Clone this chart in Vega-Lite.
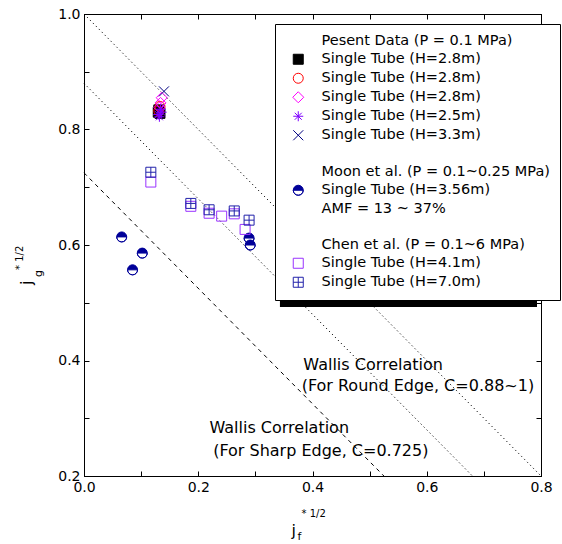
{
  "$schema": "https://vega.github.io/schema/vega-lite/v6.json",
  "width": 457,
  "height": 462,
  "autosize": {"type": "none"},
  "padding": {"left": 84, "top": 14, "right": 21, "bottom": 68},
  "background": "white",
  "datasets": {
    "pts": [
      {"x": 0.131, "y": 0.834, "s": "a1"},
      {"x": 0.133, "y": 0.828, "s": "a1"},
      {"x": 0.130, "y": 0.830, "s": "a1"},
      {"x": 0.133, "y": 0.840, "s": "a2"},
      {"x": 0.131, "y": 0.832, "s": "a2"},
      {"x": 0.136, "y": 0.855, "s": "a3"},
      {"x": 0.134, "y": 0.846, "s": "a3"},
      {"x": 0.132, "y": 0.838, "s": "a3"},
      {"x": 0.140, "y": 0.866, "s": "a5"},
      {"x": 0.134, "y": 0.835, "s": "a4"},
      {"x": 0.130, "y": 0.826, "s": "a4"},
      {"x": 0.136, "y": 0.830, "s": "a4"},
      {"x": 0.132, "y": 0.822, "s": "a4"},
      {"x": 0.066, "y": 0.614, "s": "b1"},
      {"x": 0.102, "y": 0.586, "s": "b1"},
      {"x": 0.085, "y": 0.557, "s": "b1"},
      {"x": 0.289, "y": 0.612, "s": "b1"},
      {"x": 0.291, "y": 0.600, "s": "b1"},
      {"x": 0.117, "y": 0.709, "s": "c1"},
      {"x": 0.187, "y": 0.667, "s": "c1"},
      {"x": 0.219, "y": 0.655, "s": "c1"},
      {"x": 0.241, "y": 0.650, "s": "c1"},
      {"x": 0.263, "y": 0.654, "s": "c1"},
      {"x": 0.282, "y": 0.627, "s": "c1"},
      {"x": 0.117, "y": 0.726, "s": "c2"},
      {"x": 0.187, "y": 0.672, "s": "c2"},
      {"x": 0.219, "y": 0.661, "s": "c2"},
      {"x": 0.263, "y": 0.659, "s": "c2"},
      {"x": 0.289, "y": 0.643, "s": "c2"}
    ],
    "lines": [
      {"x": 0, "y": 1.0, "c": "C1"},
      {"x": 0.8, "y": 0.2, "c": "C1"},
      {"x": 0, "y": 0.88, "c": "C088"},
      {"x": 0.68, "y": 0.2, "c": "C088"},
      {"x": 0, "y": 0.725, "c": "C0725"},
      {"x": 0.525, "y": 0.2, "c": "C0725"}
    ],
    "notesL": [
      {"x": 0.384, "y": 0.3836, "t": "Wallis Correlation"},
      {"x": 0.381, "y": 0.348, "t": "(For Round Edge, C=0.88~1)"}
    ],
    "notesR": [
      {"x": 0.464, "y": 0.274, "t": "Wallis Correlation"},
      {"x": 0.603, "y": 0.2346, "t": "(For Sharp Edge, C=0.725)"}
    ],
    "one": [{"k": 1}]
  },
  "layer": [
    {
      "data": {"name": "one"},
      "mark": {"type": "rect", "color": "black"},
      "encoding": {
        "x": {"datum": 0.343, "type": "quantitative", "scale": {"domain": [0, 0.8], "nice": false, "zero": false},
              "axis": {"values": [0, 0.1, 0.2, 0.3, 0.4, 0.5, 0.6, 0.7, 0.8], "labelExpr": "round(datum.value*10) % 2 == 0 ? format(datum.value, '.1f') : ''", "title": null, "tickSize": -5, "labelPadding": 9, "labelFont": "DejaVu Sans", "labelFontSize": 14, "labelColor": "black", "domainColor": "black", "tickColor": "black", "labelFlush": false, "labelOverlap": false, "grid": false}},
        "x2": {"datum": 0.793},
        "y": {"datum": 0.9706, "type": "quantitative", "scale": {"domain": [0.2, 1.0], "nice": false, "zero": false},
              "axis": {"values": [0.2, 0.3, 0.4, 0.5, 0.6, 0.7, 0.8, 0.9, 1.0], "labelExpr": "round(datum.value*10) % 2 == 0 ? format(datum.value, '.1f') : ''", "title": null, "tickSize": -5, "labelPadding": 9, "labelFont": "DejaVu Sans", "labelFontSize": 14, "labelColor": "black", "domainColor": "black", "tickColor": "black", "labelFlush": false, "labelOverlap": false, "grid": false}},
        "y2": {"datum": 0.4926}
      }
    },
    {
      "data": {"name": "lines"},
      "mark": {"type": "line", "color": "black", "strokeWidth": 1},
      "encoding": {
        "x": {"field": "x", "type": "quantitative",
              "axis": {"orient": "top", "values": [0, 0.1, 0.2, 0.3, 0.4, 0.5, 0.6, 0.7, 0.8], "labels": false, "title": null, "tickSize": -5, "domainColor": "black", "tickColor": "black", "grid": false}},
        "y": {"field": "y", "type": "quantitative",
              "axis": {"orient": "right", "values": [0.2, 0.3, 0.4, 0.5, 0.6, 0.7, 0.8, 0.9, 1.0], "labels": false, "title": null, "tickSize": -5, "domainColor": "black", "tickColor": "black", "grid": false}},
        "strokeDash": {"field": "c", "type": "nominal", "scale": {"domain": ["C1", "C088", "C0725"], "range": [[1.2, 3], [1.2, 3], [4, 4]]}, "legend": null}
      }
    },
    {
      "data": {"name": "pts"},
      "mark": {"type": "point", "size": 100, "strokeWidth": 1, "opacity": 1},
      "encoding": {
        "x": {"field": "x", "type": "quantitative", "axis": null},
        "y": {"field": "y", "type": "quantitative", "axis": null},
        "shape": {"field": "s", "type": "nominal",
          "scale": {"domain": ["a0h", "a1", "a2", "a3", "a4", "a5", "a6b", "b0h", "b1", "b2amf", "b3b", "c0h", "c1", "c2"],
                    "range": ["M0,0", "M-1,-1H1V1H-1Z", "M1,0A1,1,0,1,1,-1,0A1,1,0,1,1,1,0Z", "M0,-1.1L1.1,0L0,1.1L-1.1,0Z", "M-1,0H1M0,-1V1M-0.7,-0.7L0.7,0.7M-0.7,0.7L0.7,-0.7", "M-1,-1L1,1M-1,1L1,-1", "M0,0", "M0,0", "M-1,0A1,1,0,0,1,1,0Z M-1,0A1,1,0,0,0,1,0A1,1,0,0,1,-1,0", "M0,0", "M0,0", "M0,0", "M-1,-1H1V1H-1Z", "M-1,-1H1V1H-1Z M0,-1V1 M-1,0H1"]},
          "legend": {"title": null,
            "encode": {"labels": {"update": {
              "fontWeight": {"signal": "indexof(datum.value, 'h') > 0 ? 'bold' : 'normal'"},
              "fontSize": {"signal": "indexof(datum.value, 'h') > 0 ? 13.5 : 14.5"},
              "dx": {"signal": "indexof(datum.value, 'h') > 0 ? -31 : (datum.value == 'b2amf' ? 17 : 0)"}
            }}},
            "labelExpr": "{'a0h': 'Pesent Data (P = 0.1 MPa)', 'a1': 'Single Tube (H=2.8m)', 'a2': 'Single Tube (H=2.8m)', 'a3': 'Single Tube (H=2.8m)', 'a4': 'Single Tube (H=2.5m)', 'a5': 'Single Tube (H=3.3m)', 'a6b': ' ', 'b0h': 'Moon et al. (P = 0.1~0.25 MPa)', 'b1': 'Single Tube (H=3.56m)', 'b2amf': 'AMF = 13 ~ 37%', 'b3b': ' ', 'c0h': 'Chen et al. (P = 0.1~6 MPa)', 'c1': 'Single Tube (H=4.1m)', 'c2': 'Single Tube (H=7.0m)'}[datum.value]"}},
        "fill": {"field": "s", "type": "nominal",
          "scale": {"domain": ["a0h", "a1", "a2", "a3", "a4", "a5", "a6b", "b0h", "b1", "b2amf", "b3b", "c0h", "c1", "c2"],
                    "range": ["transparent", "black", "transparent", "transparent", "transparent", "transparent", "transparent", "transparent", "#000099", "transparent", "transparent", "transparent", "transparent", "transparent"]},
          "legend": {"title": null,
            "encode": {"labels": {"update": {
              "fontWeight": {"signal": "indexof(datum.value, 'h') > 0 ? 'bold' : 'normal'"},
              "fontSize": {"signal": "indexof(datum.value, 'h') > 0 ? 13.5 : 14.5"},
              "dx": {"signal": "indexof(datum.value, 'h') > 0 ? -31 : (datum.value == 'b2amf' ? 17 : 0)"}
            }}}}},
        "stroke": {"field": "s", "type": "nominal",
          "scale": {"domain": ["a0h", "a1", "a2", "a3", "a4", "a5", "a6b", "b0h", "b1", "b2amf", "b3b", "c0h", "c1", "c2"],
                    "range": ["transparent", "black", "#FF0000", "#FF00FF", "#7F00FF", "#000080", "transparent", "transparent", "#000099", "transparent", "transparent", "transparent", "#9933FF", "#2222AA"]},
          "legend": {"title": null,
            "encode": {"labels": {"update": {
              "fontWeight": {"signal": "indexof(datum.value, 'h') > 0 ? 'bold' : 'normal'"},
              "fontSize": {"signal": "indexof(datum.value, 'h') > 0 ? 13.5 : 14.5"},
              "dx": {"signal": "indexof(datum.value, 'h') > 0 ? -31 : (datum.value == 'b2amf' ? 17 : 0)"}
            }}}}}
      }
    },
    {
      "data": {"name": "notesL"},
      "mark": {"type": "text", "align": "left", "baseline": "alphabetic", "font": "DejaVu Sans", "fontSize": 16, "color": "black"},
      "encoding": {
        "x": {"field": "x", "type": "quantitative", "axis": null},
        "y": {"field": "y", "type": "quantitative", "axis": null},
        "text": {"field": "t"}
      }
    },
    {
      "data": {"name": "notesR"},
      "mark": {"type": "text", "align": "right", "baseline": "alphabetic", "font": "DejaVu Sans", "fontSize": 16, "color": "black"},
      "encoding": {
        "x": {"field": "x", "type": "quantitative", "axis": null},
        "y": {"field": "y", "type": "quantitative", "axis": null},
        "text": {"field": "t"}
      }
    },
    {
      "data": {"name": "one"},
      "mark": {"type": "text", "text": "j", "font": "DejaVu Sans", "fontSize": 16, "align": "left", "baseline": "alphabetic", "dx": -21, "dy": 60, "color": "black"},
      "encoding": {"x": {"datum": 0.4, "type": "quantitative", "axis": null}, "y": {"datum": 0.2, "type": "quantitative", "axis": null}}
    },
    {
      "data": {"name": "one"},
      "mark": {"type": "text", "text": "f", "font": "DejaVu Sans", "fontSize": 11, "align": "left", "baseline": "alphabetic", "dx": -15, "dy": 64, "color": "black"},
      "encoding": {"x": {"datum": 0.4, "type": "quantitative", "axis": null}, "y": {"datum": 0.2, "type": "quantitative", "axis": null}}
    },
    {
      "data": {"name": "one"},
      "mark": {"type": "text", "text": "*  1/2", "font": "DejaVu Sans", "fontSize": 10, "align": "left", "baseline": "alphabetic", "dx": -11, "dy": 41, "color": "black"},
      "encoding": {"x": {"datum": 0.4, "type": "quantitative", "axis": null}, "y": {"datum": 0.2, "type": "quantitative", "axis": null}}
    },
    {
      "data": {"name": "one"},
      "mark": {"type": "text", "text": "j", "font": "DejaVu Sans", "fontSize": 16, "angle": 270, "align": "left", "baseline": "alphabetic", "dx": -40, "dy": -52, "color": "black"},
      "encoding": {"x": {"datum": 0, "type": "quantitative", "axis": null}, "y": {"datum": 0.6, "type": "quantitative", "axis": null}}
    },
    {
      "data": {"name": "one"},
      "mark": {"type": "text", "text": "g", "font": "DejaVu Sans", "fontSize": 11, "angle": 270, "align": "left", "baseline": "alphabetic", "dx": -32, "dy": -42, "color": "black"},
      "encoding": {"x": {"datum": 0, "type": "quantitative", "axis": null}, "y": {"datum": 0.6, "type": "quantitative", "axis": null}}
    },
    {
      "data": {"name": "one"},
      "mark": {"type": "text", "text": "*  1/2", "font": "DejaVu Sans", "fontSize": 10, "angle": 270, "align": "left", "baseline": "alphabetic", "dx": -25, "dy": -61, "color": "black"},
      "encoding": {"x": {"datum": 0, "type": "quantitative", "axis": null}, "y": {"datum": 0.6, "type": "quantitative", "axis": null}}
    }
  ],
  "resolve": {"axis": {"x": "independent", "y": "independent"}},
  "config": {
    "view": {"stroke": "black", "strokeWidth": 1},
    "font": "DejaVu Sans",
    "axis": {"grid": false},
    "legend": {
      "orient": "none",
      "legendX": 191,
      "legendY": 10,
      "padding": 10,
      "fillColor": "white",
      "strokeColor": "black",
      "strokeWidth": 1,
      "symbolSize": 100,
      "symbolStrokeWidth": 1,
      "symbolOffset": 6,
      "labelOffset": 16,
      "rowPadding": 3,
      "labelLimit": 0,
      "labelFont": "DejaVu Sans",
      "labelColor": "black",
      "labelFontSize": 14.5
    }
  }
}
